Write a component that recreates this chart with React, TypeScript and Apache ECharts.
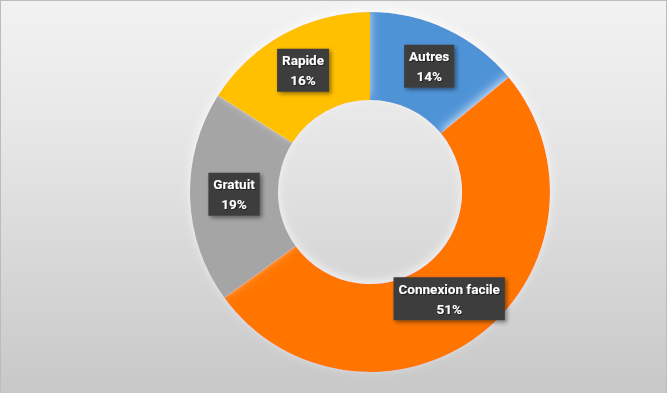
import React, { useEffect, useRef } from "react";
import * as echarts from "echarts";

const categories = ["Autres", "Connexion facile", "Gratuit", "Rapide"];
const values = [14, 51, 19, 16];
const colors = ["#4F93D7", "#FF7406", "#A5A5A5", "#FFC000"];

export default function App() {
  const ref = useRef<HTMLDivElement>(null);
  useEffect(() => {
    document.body.style.margin = "0";
    const chart = echarts.init(ref.current!, null, { renderer: "svg" });
    chart.setOption({
      animation: false,
      series: [
        {
          type: "pie",
          center: [369, 191],
          radius: [92, 180],
          startAngle: 90,
          clockwise: true,
          data: categories.map((c, i) => ({
            name: c,
            value: values[i],
            itemStyle: { color: colors[i] },
            label: i === 1 ? { offset: [-6, -3] } : i === 2 ? { offset: [3, -2] } : undefined,
          })),
          itemStyle: {
            borderWidth: 0,
            shadowColor: "rgba(255,255,255,0.7)",
            shadowBlur: 10,
            shadowOffsetY: -3,
          },
          label: {
            show: true,
            position: "inside",
            formatter: "{b}\n{d}%",
            color: "#ffffff",
            fontFamily: "Roboto, 'Liberation Sans', sans-serif",
            fontWeight: "bold",
            fontSize: 13.5,
            lineHeight: 20,
            align: "center",
            backgroundColor: "#3d3d3d",
            padding: [2, 5, 1, 5],
            shadowColor: "rgba(0,0,0,0.45)",
            shadowBlur: 4,
            shadowOffsetX: 2,
            shadowOffsetY: 2,
            textShadowColor: "rgba(0,0,0,0.5)",
            textShadowBlur: 1,
            textShadowOffsetX: 1,
            textShadowOffsetY: 1,
          },
          labelLine: { show: false },
          emphasis: { disabled: true },
        },
      ],
    });
    return () => chart.dispose();
  }, []);
  return (
    <div
      style={{
        position: "absolute",
        left: 0,
        top: 0,
        width: 665,
        height: 392,
        border: "1px solid #bcbcbc",
        background: "linear-gradient(to bottom, #f2f2f2 0%, #e6e6e6 35%, #c8c8c8 100%)",
      }}
    >
      <div ref={ref} style={{ width: 665, height: 392 }} />
    </div>
  );
}
